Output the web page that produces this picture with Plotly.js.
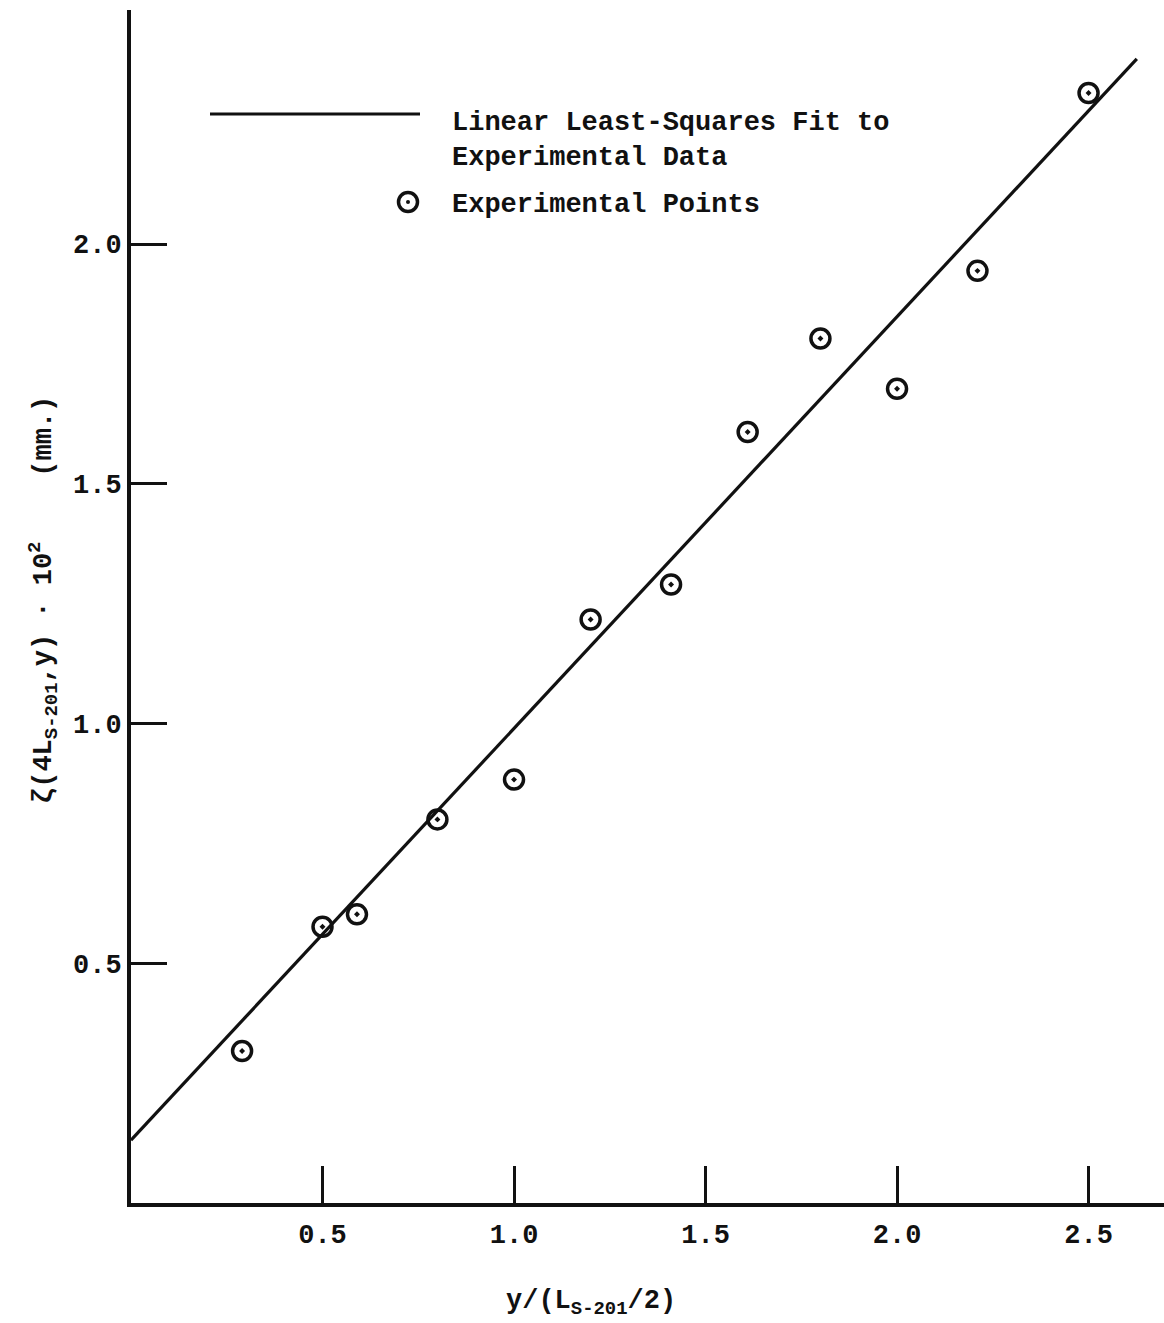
<!DOCTYPE html>
<html>
<head>
<meta charset="utf-8">
<script src="https://cdn.plot.ly/plotly-3.0.1.min.js"></script>
<style>
  html, body { margin: 0; padding: 0; background: #ffffff; }
  #chart { width: 1164px; height: 1323px; }
</style>
</head>
<body>
<div id="chart"></div>
<script>
// Experimental points
const pointX = [0.29, 0.50, 0.59, 0.80, 1.00, 1.20, 1.41, 1.61, 1.80, 2.00, 2.21, 2.50];
const pointY = [0.317, 0.576, 0.602, 0.800, 0.883, 1.217, 1.290, 1.608, 1.803, 1.698, 1.944, 2.315];

// Linear least-squares fit line, endpoints
const fitX = [0.0, 2.626];
const fitY = [0.131, 2.386];

// Tick labels
const xTickVals = [0.5, 1.0, 1.5, 2.0, 2.5];
const xTickText = ["0.5", "1.0", "1.5", "2.0", "2.5"];
const yTickVals = [0.5, 1.0, 1.5, 2.0];
const yTickText = ["0.5", "1.0", "1.5", "2.0"];

// Legend and axis texts
const legendLineText = "Linear Least-Squares Fit to<br>Experimental Data";
const legendPointText = "Experimental Points";
const xTitle = "y/(L<sub>S-201</sub>/2)";
const yTitle = "\u03b6(4L<sub>S-201</sub>,y) \u00b7 10<sup>2</sup>\u00a0\u00a0\u00a0\u00a0(mm.)";

const FONT = "Liberation Mono, Courier New, monospace";
const INK = "#111111";
const FS = 27;

const traces = [
  {
    type: "scatter", mode: "lines", x: fitX, y: fitY,
    line: { color: INK, width: 3.2 }, showlegend: false, hoverinfo: "skip"
  },
  {
    type: "scatter", mode: "markers", x: pointX, y: pointY,
    marker: { symbol: "circle-dot", size: 19, color: "rgba(0,0,0,0)",
              line: { color: INK, width: 3.5 } },
    showlegend: false, hoverinfo: "skip"
  }
];

const W = 1164, H = 1323;
const mL = 131, mR = 0, mT = 10, mB = 120;
const pw = W - mL - mR, ph = H - mT - mB;
const px = v => (v - mL) / pw;
const py = v => (H - mB - v) / ph;
const tf = { family: FONT, size: FS, color: INK, weight: "bold" };

const layout = {
  width: W, height: H,
  margin: { l: mL, r: mR, t: mT, b: mB, pad: 0 },
  paper_bgcolor: "#ffffff", plot_bgcolor: "#ffffff",
  showlegend: false,
  font: tf,
  xaxis: {
    range: [0, 2.697], showgrid: false, zeroline: false,
    showline: true, linecolor: INK, linewidth: 4,
    ticks: "inside", ticklen: 37, tickwidth: 3, tickcolor: INK,
    tickvals: xTickVals, ticktext: xTickText,
    tickfont: tf,
    ticklabelstandoff: 4
  },
  yaxis: {
    range: [0, 2.488], showgrid: false, zeroline: false,
    showline: true, linecolor: INK, linewidth: 4,
    ticks: "inside", ticklen: 36, tickwidth: 3, tickcolor: INK,
    tickvals: yTickVals, ticktext: yTickText,
    tickfont: tf,
    ticklabelstandoff: 0
  },
  shapes: [
    { type: "line", xref: "paper", yref: "paper",
      x0: px(210), x1: px(420), y0: py(114), y1: py(114),
      line: { color: INK, width: 3 } },
    { type: "circle", xref: "paper", yref: "paper",
      xsizemode: "pixel", ysizemode: "pixel",
      xanchor: px(408), yanchor: py(202),
      x0: -9.5, x1: 9.5, y0: -9.5, y1: 9.5,
      line: { color: INK, width: 3.5 }, fillcolor: "rgba(0,0,0,0)" },
    { type: "circle", xref: "paper", yref: "paper",
      xsizemode: "pixel", ysizemode: "pixel",
      xanchor: px(408), yanchor: py(202),
      x0: -2, x1: 2, y0: -2, y1: 2,
      line: { color: INK, width: 0 }, fillcolor: INK }
  ],
  annotations: [
    { xref: "paper", yref: "paper", x: px(450), y: py(141),
      xanchor: "left", yanchor: "middle", align: "left",
      text: legendLineText, showarrow: false, font: tf },
    { xref: "paper", yref: "paper", x: px(450), y: py(205),
      xanchor: "left", yanchor: "middle", align: "left",
      text: legendPointText, showarrow: false, font: tf },
    { xref: "paper", yref: "paper", x: px(591), y: py(1303),
      xanchor: "center", yanchor: "middle",
      text: xTitle, showarrow: false, font: tf },
    { xref: "paper", yref: "paper", x: px(43), y: py(600),
      xanchor: "center", yanchor: "middle", textangle: -90,
      text: yTitle, showarrow: false, font: tf }
  ]
};

Plotly.newPlot("chart", traces, layout, { staticPlot: true, displayModeBar: false });
</script>
</body>
</html>
